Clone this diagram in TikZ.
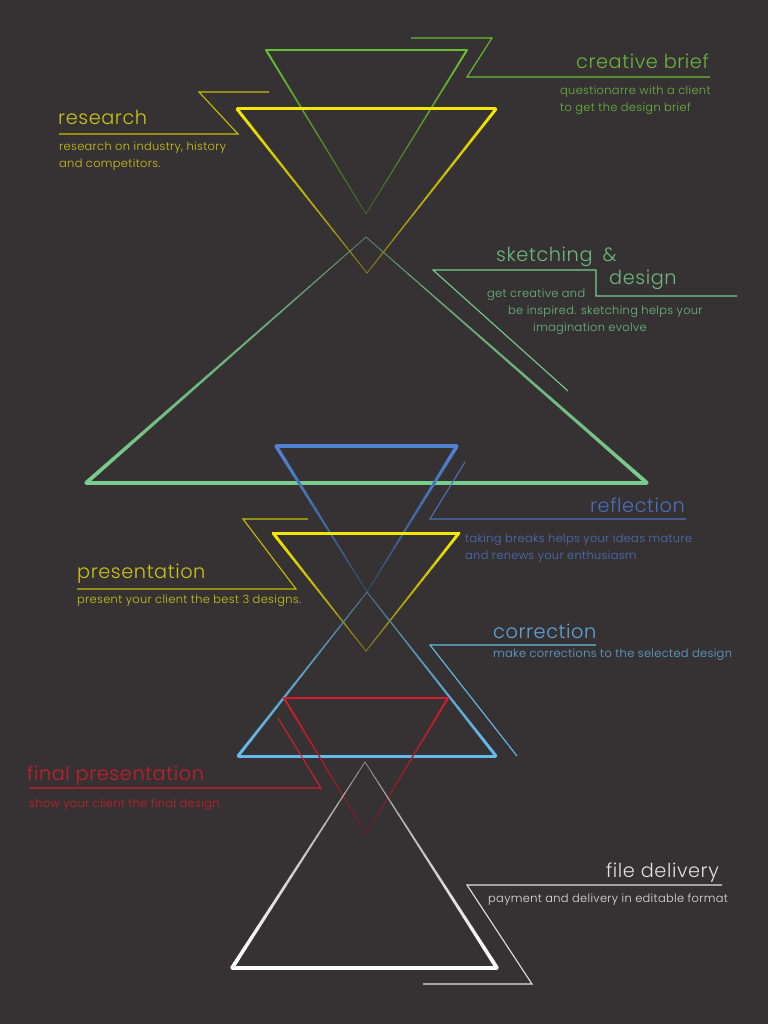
\documentclass[tikz,border=0pt]{standalone}
\usepackage{fontspec}
\IfFontExistsTF{Poppins Light}
  {\setmainfont{Poppins Light}[LetterSpace=3]}
  {\setmainfont{Poppins}[LetterSpace=3]}
\usetikzlibrary{calc}

\definecolor{bg}{RGB}{54,50,51}
\definecolor{briefgreen}{RGB}{104,190,50}
\definecolor{briefdark}{RGB}{70,110,40}
\definecolor{brieftext}{RGB}{108,180,60}
\definecolor{resyellow}{RGB}{242,232,0}
\definecolor{resdark}{RGB}{140,130,20}
\definecolor{resline}{RGB}{200,190,0}
\definecolor{restext}{RGB}{205,195,25}
\definecolor{mint}{RGB}{120,205,140}
\definecolor{minttext}{RGB}{108,185,125}
\definecolor{reflblue}{RGB}{80,130,210}
\definecolor{refldark}{RGB}{55,80,120}
\definecolor{refltext}{RGB}{75,112,185}
\definecolor{corrblue}{RGB}{100,188,235}
\definecolor{corrtext}{RGB}{95,165,215}
\definecolor{finalred}{RGB}{212,30,45}
\definecolor{finaldark}{RGB}{120,30,35}
\definecolor{finaltext}{RGB}{200,30,42}
\definecolor{filetext}{RGB}{225,225,225}

% side of a triangle that fades in colour and width
\newcommand{\fadeline}[6]{%
  \foreach \k in {0,...,19}{%
    \pgfmathsetmacro\segfrom{\k/20}%
    \pgfmathsetmacro\segto{(\k+1)/20}%
    \pgfmathtruncatemacro\mixpct{100-\k*100/19}%
    \pgfmathsetmacro\segw{#5+(#6-#5)*\k/19}%
    \draw[line cap=round, line width=\segw pt, color=#3!\mixpct!#4]
      ($(#1)!\segfrom!(#2)$) -- ($(#1)!\segto!(#2)$);
  }%
}

\tikzset{
  title/.style={font=\fontsize{19.3}{21}\selectfont, inner sep=0pt},
  blurb/.style={font=\fontsize{11.4}{13}\selectfont, inner sep=0pt},
  zigzag/.style={line width=1.1pt, line join=miter},
}

\begin{document}
\begin{tikzpicture}[x=1pt, y=-1pt]
\fill[bg] (0,0) rectangle (768,1024);

% Draw creative brief.
\coordinate (cbL) at (266,50);
\coordinate (cbR) at (467,50);
\coordinate (cbT) at (366,214);
\draw[briefgreen, line width=2pt] (cbL) -- (cbR);
\fadeline{cbL}{cbT}{briefgreen}{briefdark}{2}{0.7}
\fadeline{cbR}{cbT}{briefgreen}{briefdark}{2}{0.7}
\draw[zigzag, briefgreen] (411,38) -- (492,38) -- (467,77) -- (710,77);
\node[title, brieftext, anchor=base east] (brief) at (709,69) {creative brief};
\node[blurb, brieftext, anchor=base west] (brief1) at (560,95) {questionarre with a client};
\node[blurb, brieftext, anchor=base west] (brief2) at (560,112) {to get the design brief};

% Draw research.
\coordinate (rsL) at (237,109);
\coordinate (rsR) at (496,109);
\coordinate (rsT) at (367,273);
\draw[resyellow, line width=3pt] (rsL) -- (rsR);
\fadeline{rsL}{rsT}{resyellow}{resdark}{3}{0.8}
\fadeline{rsR}{rsT}{resyellow}{resdark}{3}{0.8}
\draw[zigzag, resline] (269,92) -- (199,92) -- (238,134) -- (59,134);
\node[title, restext, anchor=base west] (research) at (58,125) {research};
\node[blurb, restext, anchor=base west] (research1) at (59,151) {research on industry, history};
\node[blurb, restext, anchor=base west] (research2) at (59,168) {and competitors.};

% Draw sketching and design.
\coordinate (skT) at (366,237);
\coordinate (skL) at (86,483);
\coordinate (skR) at (647,483);
\fadeline{skT}{skL}{mint!65!bg}{mint}{0.7}{3.8}
\fadeline{skT}{skR}{mint!65!bg}{mint}{0.7}{3.8}
\draw[mint, line width=3.8pt] (skL) -- (skR);
\draw[zigzag, mint] (568,391) -- (433,270) -- (596,270) -- (596,296) -- (737,296);
\node[title, minttext, anchor=base west] (sketch) at (496,261) {sketching\hspace{10pt}\&};
\node[title, minttext, anchor=base west] (design) at (609,284) {design};
\node[blurb, minttext, anchor=base west] (sketch1) at (487,297) {get creative and};
\node[blurb, minttext, anchor=base west] (sketch2) at (508,314) {be inspired. sketching helps your};
\node[blurb, minttext, anchor=base west] (sketch3) at (533,331) {imagination evolve};

% Draw reflection.
\coordinate (rfL) at (276,446);
\coordinate (rfR) at (457,446);
\coordinate (rfT) at (367,592);
\draw[reflblue, line width=3.5pt] (rfL) -- (rfR);
\fadeline{rfL}{rfT}{reflblue}{refldark}{3.5}{0.8}
\fadeline{rfR}{rfT}{reflblue}{refldark}{3.5}{0.8}
\draw[zigzag, refltext] (465,462) -- (430,519) -- (686,519);
\node[title, refltext, anchor=base east] (reflection) at (685,512) {reflection};
\node[blurb, refltext, anchor=base west] (reflection1) at (465,542) {taking breaks helps your ideas mature};
\node[blurb, refltext, anchor=base west] (reflection2) at (465,559) {and renews your enthusiasm};

% Draw presentation.
\coordinate (prL) at (273,533);
\coordinate (prR) at (459,533);
\coordinate (prT) at (366,651);
\draw[resyellow, line width=3pt] (prL) -- (prR);
\fadeline{prL}{prT}{resyellow}{resdark}{3}{0.8}
\fadeline{prR}{prT}{resyellow}{resdark}{3}{0.8}
\draw[zigzag, resline] (308,519) -- (243,519) -- (296,589) -- (77,589);
\node[title, restext, anchor=base west] (present) at (77,578) {presentation};
\node[blurb, restext, anchor=base west] (present1) at (77,603) {present your client the best 3 designs.};

% Draw correction.
\coordinate (crT) at (367,592);
\coordinate (crL) at (238,756);
\coordinate (crR) at (496,756);
\fadeline{crT}{crL}{corrblue!55!bg}{corrblue}{0.8}{3}
\fadeline{crT}{crR}{corrblue!55!bg}{corrblue}{0.8}{3}
\draw[corrblue, line width=3pt] (crL) -- (crR);
\draw[zigzag, corrblue] (517,756) -- (430,645) -- (596,645);
\node[title, corrtext, anchor=base west] (correction) at (493,638) {correction};
\node[blurb, corrtext, anchor=base west] (correction1) at (493,657) {make corrections to the selected design};

% Draw final presentation.
\coordinate (fpL) at (284,698);
\coordinate (fpR) at (448,698);
\coordinate (fpT) at (366,834);
\draw[finalred, line width=2pt] (fpL) -- (fpR);
\fadeline{fpL}{fpT}{finalred}{finaldark}{2}{0.7}
\fadeline{fpR}{fpT}{finalred}{finaldark}{2}{0.7}
\draw[zigzag, finalred] (278,718) -- (321,788) -- (29,788);
\node[title, finaltext, anchor=base west] (final) at (27,780) {final presentation};
\node[blurb, finaltext, anchor=base west] (final1) at (29,807) {show your client the final design};

% Draw file delivery.
\coordinate (fdT) at (365,762);
\coordinate (fdL) at (232,968);
\coordinate (fdR) at (497,968);
\fadeline{fdT}{fdL}{white!50!bg}{white}{0.7}{3.8}
\fadeline{fdT}{fdR}{white!50!bg}{white}{0.7}{3.8}
\draw[white, line width=3.8pt] (fdL) -- (fdR);
\draw[zigzag, white!85!bg] (423,984) -- (532,984) -- (467,885) -- (722,885);
\node[title, filetext, anchor=base east] (delivery) at (719,877) {file delivery};
\node[blurb, filetext, anchor=base west] (delivery1) at (488,902) {payment and delivery in editable format};

\end{tikzpicture}
\end{document}
